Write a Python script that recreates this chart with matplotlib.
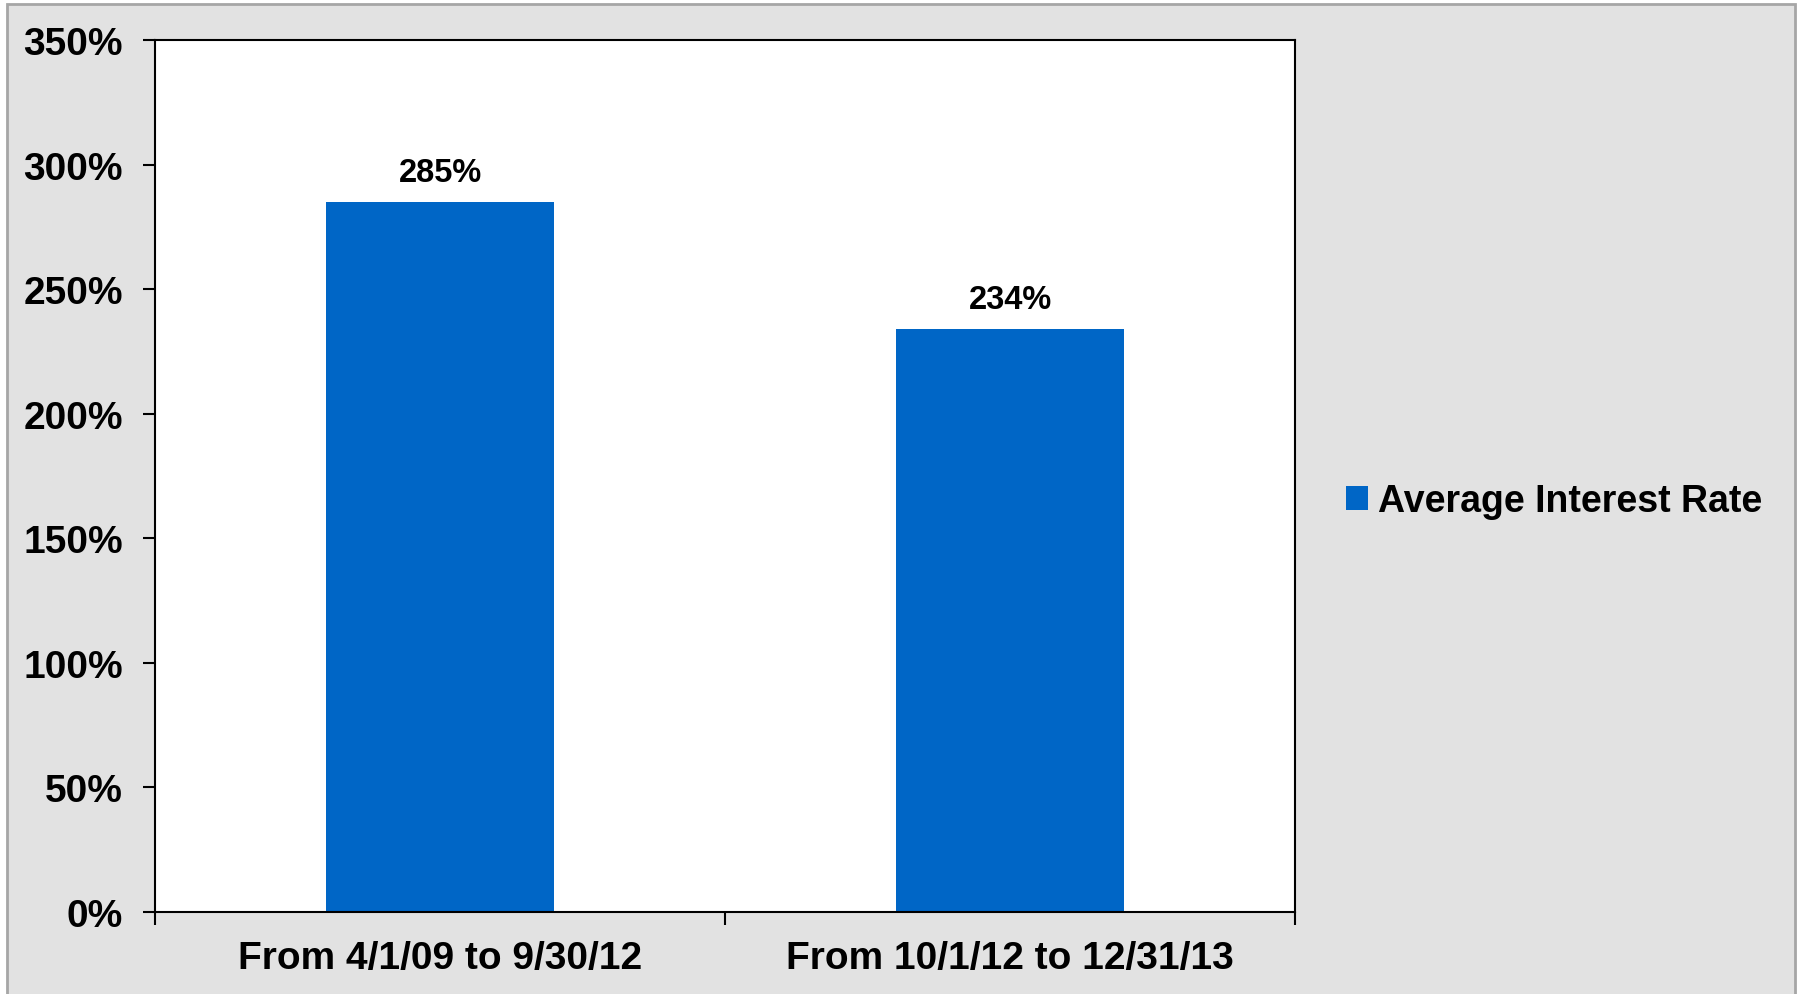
import matplotlib.pyplot as plt
from matplotlib.patches import Rectangle, Patch

# data
periods = ["From 4/1/09 to 9/30/12", "From 10/1/12 to 12/31/13"]
avg_rate = [285, 234]
y_ticks = [0, 50, 100, 150, 200, 250, 300, 350]
series_name = "Average Interest Rate"

bar_color = "#0066C6"

plt.rcParams["font.family"] = ["Liberation Sans", "DejaVu Sans"]
plt.rcParams["font.weight"] = "bold"

fig = plt.figure(figsize=(18, 9.95), dpi=100)
fig.patch.set_facecolor("white")

# grey chart area with thin frame
fig.patches.append(Rectangle((7 / 1800, -0.01), 1788 / 1800, 1.01 - 5 / 995,
                             transform=fig.transFigure, facecolor="#e2e2e2",
                             edgecolor="#a6a6a6", linewidth=2, zorder=-10))

ax = fig.add_axes([155 / 1800, 1 - 913 / 995, 1140 / 1800, 872 / 995])
ax.set_facecolor("white")

x = range(len(periods))
bars = ax.bar(x, avg_rate, width=0.4, color=bar_color, label=series_name, zorder=2)

for rect, v in zip(bars, avg_rate):
    ax.annotate(f"{v}%", (rect.get_x() + rect.get_width() / 2, v),
                xytext=(0, 10), textcoords="offset points",
                ha="center", va="bottom", fontsize=23.5, fontweight="bold")

ax.set_xlim(-0.5, len(periods) - 0.5)
ax.set_ylim(0, 350)

ax.set_yticks(y_ticks)
ax.set_yticklabels([f"{t}%" for t in y_ticks])
ax.tick_params(axis="y", direction="out", length=9, width=1.5, pad=14, labelsize=28)

# tick marks between categories, labels under each bar
ax.set_xticks([-0.5, 0.5, 1.5])
ax.set_xticklabels([])
ax.set_xticks(list(x), minor=True)
ax.set_xticklabels(periods, minor=True)
ax.tick_params(axis="x", which="major", direction="out", length=9, width=1.5)
ax.tick_params(axis="x", which="minor", length=0, pad=20, labelsize=28)

for s in ax.spines.values():
    s.set_linewidth(1.5)
    s.set_color("black")

handle = Patch(facecolor=bar_color, edgecolor="none")
fig.legend([handle], [series_name], loc="center left",
           bbox_to_anchor=(1312 / 1800, 1 - 502 / 995), frameon=False,
           fontsize=27, handlelength=0.6, handleheight=0.6, handletextpad=0.25)

fig.savefig("out.png", dpi=100)
